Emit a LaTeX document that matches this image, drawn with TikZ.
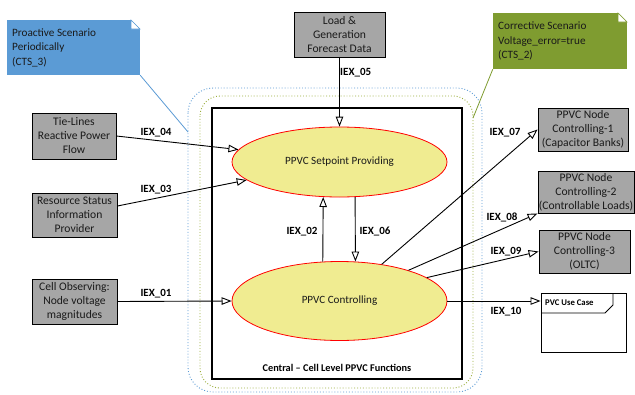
\documentclass[tikz,border=0pt]{standalone}
\usepackage{fontspec}
\setmainfont{Carlito}
\usetikzlibrary{shapes.geometric,arrows.meta}
\definecolor{cblue}{HTML}{5B9BD5}
\definecolor{cgreen}{HTML}{7F9C30}
\definecolor{dgreen}{HTML}{9AAE3A}
\definecolor{boxgray}{HTML}{A6A6A6}
\definecolor{ellfill}{HTML}{F0EC91}
\definecolor{txt}{HTML}{1A1A1A}
\begin{document}
\begin{tikzpicture}[x=1pt,y=-1pt,
  graybox/.style={draw=black,line width=0.9pt,fill=boxgray,inner sep=0pt,align=center,
    text=txt,font=\fontsize{11.6}{14}\selectfont},
  ellnode/.style={ellipse,draw=red,line width=0.8pt,fill=ellfill,inner sep=0pt,
    text=txt,font=\fontsize{11.1}{13}\selectfont},
  lbl/.style={font=\bfseries\fontsize{11}{13}\selectfont,inner sep=0pt,text=black},
  conn/.style={draw=black,line width=0.9pt},
  arr/.style={conn,-{Triangle[open,length=10pt,width=7.5pt,line width=0.9pt]}},
  callout/.style={inner sep=0pt,align=left,text=txt,font=\fontsize{11.2}{14.5}\selectfont},
]
\useasboundingbox (0,0) rectangle (635,394);
\fill[white] (0,0) rectangle (635,394);

% dotted scenario boundaries
\draw[cblue,dotted,line width=0.9pt,rounded corners=25pt] (188,88) rectangle (482,392);
\draw[dgreen,dotted,line width=0.9pt,rounded corners=20pt] (200,96) rectangle (473,388);

% central frame
\node[draw=black,line width=1.5pt,minimum width=250pt,minimum height=271pt,inner sep=0pt] (frame) at (337,243.5) {};
\node[lbl,font=\bfseries\fontsize{10.3}{12}\selectfont] (framelbl) at (337,368) {Central -- Cell Level PPVC Functions};

% callouts
\node[fill=cblue,minimum width=133pt,minimum height=55pt,inner sep=0pt] (cts3box) at (73.5,47.5) {};
\fill[white] (131,19.5) -- (140.5,19.5) -- (140.5,29) -- cycle;
\filldraw[fill=white,draw=cblue,line width=0.6pt] (131,20) -- (131,29) -- (140,29) -- cycle;
\node[callout,anchor=west] (cts3) at (12,47.5) {Proactive Scenario\\Periodically\\(CTS\_3)};
\coordinate (c3end) at (188,132);
\draw[cblue,line width=0.8pt] (cts3box.south east) -- (c3end);

\node[fill=cgreen,minimum width=134pt,minimum height=56pt,inner sep=0pt] (cts2box) at (560,41) {};
\fill[white] (618,12.5) -- (627.5,12.5) -- (627.5,22) -- cycle;
\filldraw[fill=white,draw=cgreen,line width=0.6pt] (618,13) -- (618,22) -- (627,22) -- cycle;
\node[callout,anchor=west] (cts2) at (498,41) {Corrective Scenario\\Voltage\_error=true\\(CTS\_2)};
\coordinate (c2end) at (473,118);
\draw[cgreen,line width=0.8pt] (cts2box.south west) -- (c2end);

% ellipses
\node[ellnode,minimum width=215pt,minimum height=70pt] (e1) at (339.5,162) {PPVC Setpoint Providing};
\node[ellnode,minimum width=215pt,minimum height=79pt] (e2) at (339.5,301) {PPVC Controlling};

% gray boxes
\node[graybox,minimum width=91pt,minimum height=45pt] (load) at (339.5,34.5) {Load \&\\Generation\\Forecast Data};
\node[graybox,minimum width=84pt,minimum height=46pt] (tie) at (74,136) {Tie-Lines\\Reactive Power\\Flow};
\node[graybox,minimum width=85pt,minimum height=44pt] (res) at (74.5,215) {Resource Status\\Information\\Provider};
\node[graybox,minimum width=85pt,minimum height=45pt] (cell) at (74.5,301.5) {Cell Observing:\\Node voltage\\magnitudes};
\node[graybox,minimum width=90pt,minimum height=43pt] (n1) at (583,129.5) {PPVC Node\\Controlling-1\\(Capacitor Banks)};
\node[graybox,minimum width=96pt,minimum height=42pt] (n2) at (586,192) {PPVC Node\\Controlling-2\\(Controllable Loads)};
\node[graybox,minimum width=91pt,minimum height=43pt] (n3) at (584.5,251.5) {PPVC Node\\Controlling-3\\(OLTC)};

% PVC use case frame
\node[draw=black,line width=0.9pt,minimum width=85pt,minimum height=59pt,inner sep=0pt] (pvc) at (583.5,322.5) {};
\draw[black,line width=0.9pt] (541,313) -- (605,313) -- (613,305) -- (613,293);
\node[anchor=west,inner sep=0pt,font=\bfseries\fontsize{8.7}{10}\selectfont] (pvclbl) at (545,303) {PVC Use Case};

% connectors
\draw[arr] (load.south) -- (e1.north);
\draw[arr] (tie.east) -- (e1.173);
\draw[arr] ([yshift=9pt]res.east) -- (e1.191);
\draw[arr] (cell.east) -- (e2.west);
\draw[arr] (e2.113) -- (e1.245);
\draw[arr] (e1.294) -- (e2.68);
\draw[arr] (e2.41) -- (n1.west);
\draw[arr] (e2.24) -- (n2.south west);
\draw[arr] (e2.15) -- (n3.west);
\draw[arr] (e2.east) -- (pvc.west |- e2.east);

% labels
\node[lbl,anchor=west] (l05) at (340,73) {IEX\_05};
\node[lbl] (l04) at (156,133) {IEX\_04};
\node[lbl] (l03) at (156,190) {IEX\_03};
\node[lbl] (l01) at (156,294) {IEX\_01};
\node[lbl] (l02) at (302,232) {IEX\_02};
\node[lbl] (l06) at (375,232) {IEX\_06};
\node[lbl] (l07) at (505,133) {IEX\_07};
\node[lbl] (l08) at (502,217) {IEX\_08};
\node[lbl] (l09) at (506,252) {IEX\_09};
\node[lbl] (l10) at (506,312) {IEX\_10};
\end{tikzpicture}
\end{document}
